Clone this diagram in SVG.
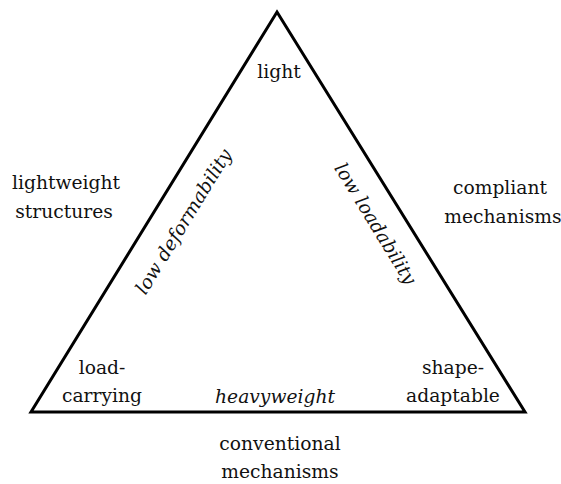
<svg xmlns="http://www.w3.org/2000/svg" width="561" height="484" viewBox="0 0 561 484">
  <style>
    text { font-family: "DejaVu Serif", "Liberation Serif", serif; font-size: 18.7px; fill: #111; text-anchor: middle; }
    .it { font-style: italic; }
    .edge { fill: none; stroke: #000; stroke-width: 3; stroke-linejoin: miter; }
  </style>
  <rect width="561" height="484" fill="#fff"/>
  <g id="connectors">
    <polygon class="edge" points="277,12 525,412 31,412"/>
  </g>
  <g id="node-light"><text x="279" y="78">light</text></g>
  <g id="node-lightweight"><text x="66" y="189">lightweight</text><text x="64" y="218">structures</text></g>
  <g id="node-compliant"><text x="500" y="194">compliant</text><text x="503" y="223">mechanisms</text></g>
  <g id="node-load"><text x="102" y="374">load-</text><text x="102" y="402">carrying</text></g>
  <g id="node-shape"><text x="453" y="374">shape-</text><text x="453" y="402">adaptable</text></g>
  <g id="node-conventional"><text x="280" y="450">conventional</text><text x="280" y="478">mechanisms</text></g>
  <g id="label-heavyweight"><text class="it" x="275" y="403">heavyweight</text></g>
  <g id="label-low-deformability"><text class="it" font-size="19.5" transform="translate(189,225) rotate(-58.5)">low deformability</text></g>
  <g id="label-low-loadability"><text class="it" font-size="19.5" transform="translate(370,227) rotate(58.5)">low loadability</text></g>
</svg>
